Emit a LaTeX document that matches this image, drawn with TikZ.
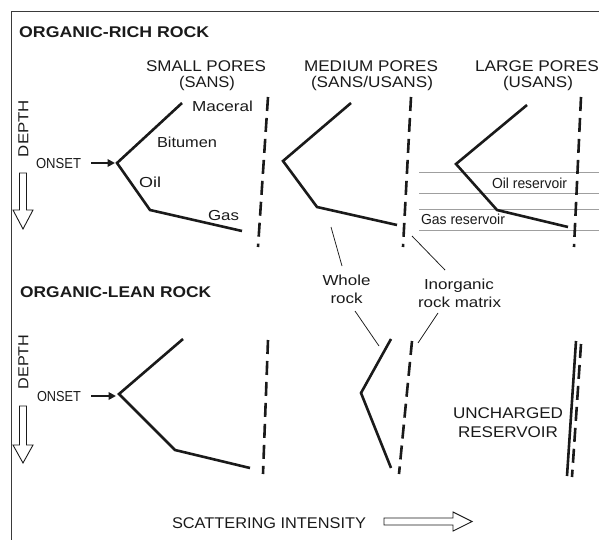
\documentclass[tikz,border=0pt]{standalone}
\usepackage{fontspec}
\setmainfont{Liberation Sans}
\usetikzlibrary{arrows.meta}
\newcommand\fw[2]{\resizebox{#1pt}{\height}{#2}}
\definecolor{inkc}{HTML}{1A1A1A}
\definecolor{framec}{HTML}{3A3A3A}
\begin{document}
\begin{tikzpicture}[x=1pt,y=-1pt,
  ink/.style={line width=2.6pt, draw=inkc},
  dsh/.style={line width=2.6pt, draw=inkc, dash pattern=on 14pt off 7pt},
  lbl/.style={inner sep=0pt, anchor=base, text=inkc, font=\fontsize{14.5}{16}\selectfont},
  hdr/.style={inner sep=0pt, anchor=base, text=inkc, font=\fontsize{15.5}{17}\selectfont},
  ttl/.style={inner sep=0pt, anchor=base west, text=inkc, font=\fontsize{15.5}{17}\selectfont\bfseries},
  lead/.style={line width=0.75pt, draw=inkc},
  hollow/.style={line width=0.9pt, draw=inkc, fill=white},
  gridl/.style={line width=0.7pt, draw=gray!75},
  onsetarrow/.style={line width=1.9pt, draw=inkc, -{Triangle[length=7.5pt,width=7.5pt]}},
]
\useasboundingbox (0,0) rectangle (599,540);
% frame
\draw[framec, line width=1.2pt] (11.7,540) -- (11.7,11.7) -- (599,11.7);

% titles
\node[ttl] (t1) at (19,37.5) {\fw{190}{ORGANIC-RICH ROCK}};
\node[ttl] (t2) at (20,297) {\fw{191}{ORGANIC-LEAN ROCK}};

% column headers
\node[hdr] (h1a) at (206,71.5) {\fw{120}{SMALL PORES}};
\node[hdr] (h1b) at (207,87.5) {\fw{56}{(SANS)}};
\node[hdr] (h2a) at (371,71.5) {\fw{134}{MEDIUM PORES}};
\node[hdr] (h2b) at (372,87.5) {\fw{122}{(SANS/USANS)}};
\node[hdr] (h3a) at (537,71.5) {\fw{124}{LARGE PORES}};
\node[hdr] (h3b) at (538,87.5) {\fw{70}{(USANS)}};

% gray reservoir lines
\coordinate (g1a) at (419,172); \coordinate (g1b) at (599,172);
\coordinate (g2a) at (419,193); \coordinate (g2b) at (599,193);
\coordinate (g3a) at (419,209); \coordinate (g3b) at (599,209);
\coordinate (g4a) at (419,230); \coordinate (g4b) at (599,230);
\draw[gridl] (g1a) -- (g1b);
\draw[gridl] (g2a) -- (g2b);
\draw[gridl] (g3a) -- (g3b);
\draw[gridl] (g4a) -- (g4b);

% labels
\node[lbl] (mac) at (222.5,112) {\fw{61}{Maceral}};
\node[lbl] (bit) at (187,148) {\fw{60}{Bitumen}};
\node[lbl] (oil) at (150,187) {\fw{22}{Oil}};
\node[lbl] (gas) at (223.5,220) {\fw{31}{Gas}};
\node[lbl] (oilr) at (529.5,188.5) {\fw{75}{Oil reservoir}};
\node[lbl] (gasr) at (463,224.5) {\fw{84}{Gas reservoir}};
\node[lbl] (wh1) at (346.5,285) {\fw{48}{Whole}};
\node[lbl] (wh2) at (346.5,303) {\fw{32}{rock}};
\node[lbl] (in1) at (459,289) {\fw{70}{Inorganic}};
\node[lbl] (in2) at (459.5,307) {\fw{83}{rock matrix}};
\node[hdr] (un1) at (508,418) {\fw{110}{UNCHARGED}};
\node[hdr] (un2) at (508,437) {\fw{100}{RESERVOIR}};
\node[hdr] (sc) at (269,528) {\fw{194}{SCATTERING INTENSITY}};

% depth and onset
\node[lbl, rotate=90, anchor=center] (d1) at (23.5,128.5) {\fw{57}{DEPTH}};
\node[lbl, rotate=90, anchor=center] (d2) at (23.5,362) {\fw{55}{DEPTH}};
\node[lbl] (on1) at (58.5,168.5) {\fw{45}{ONSET}};
\node[lbl] (on2) at (59,401.5) {\fw{44}{ONSET}};
\coordinate (oa1) at (91,163); \coordinate (ob1) at (115,163);
\coordinate (oa2) at (91,396); \coordinate (ob2) at (116,396);
\draw[onsetarrow] (oa1) -- (ob1);
\draw[onsetarrow] (oa2) -- (ob2);

% hollow depth arrows
\draw[hollow] (19.5,173) -- (26.5,173) -- (26.5,210) -- (33,210) -- (23,229) -- (13,210) -- (19.5,210) -- cycle;
\draw[hollow] (19.5,406) -- (26.5,406) -- (26.5,445) -- (33,445) -- (23,463) -- (13,445) -- (19.5,445) -- cycle;
% hollow intensity arrow
\draw[hollow] (384,518) -- (453,518) -- (453,512) -- (472,521.5) -- (453,531) -- (453,525) -- (384,525) -- cycle;

% organic-rich curves
\coordinate (s1) at (182,103); \coordinate (s2) at (117,163); \coordinate (s3) at (150,210); \coordinate (s4) at (242,231);
\draw[ink, line join=miter] (s1) -- (s2) -- (s3) -- (s4);
\coordinate (sd1) at (268,97); \coordinate (sd2) at (258,247);
\draw[dsh] (sd1) -- (sd2);

\coordinate (m1) at (351,103); \coordinate (m2) at (283,161); \coordinate (m3) at (317,207); \coordinate (m4) at (397,225);
\draw[ink, line join=miter] (m1) -- (m2) -- (m3) -- (m4);
\coordinate (md1) at (411,97); \coordinate (md2) at (403,247);
\draw[dsh] (md1) -- (md2);

\coordinate (l1) at (527,105); \coordinate (l2) at (456,164); \coordinate (l3) at (497,210); \coordinate (l4) at (568,227);
\draw[ink, line join=miter] (l1) -- (l2) -- (l3) -- (l4);
\coordinate (ld1) at (581,97); \coordinate (ld2) at (574,247);
\draw[dsh] (ld1) -- (ld2);

% organic-lean curves
\coordinate (ls1) at (183,339); \coordinate (ls2) at (119,394); \coordinate (ls3) at (175,450); \coordinate (ls4) at (250,468);
\draw[ink, line join=miter] (ls1) -- (ls2) -- (ls3) -- (ls4);
\coordinate (lsd1) at (268,340); \coordinate (lsd2) at (263,474);
\draw[dsh] (lsd1) -- (lsd2);

\coordinate (lm1) at (391,339); \coordinate (lm2) at (361,393); \coordinate (lm3) at (391,468);
\draw[ink, line join=miter] (lm1) -- (lm2) -- (lm3);
\coordinate (lmd1) at (412,341); \coordinate (lmd2) at (399,474);
\draw[dsh] (lmd1) -- (lmd2);

\coordinate (u1) at (576,341); \coordinate (u2) at (567,476);
\draw[ink] (u1) -- (u2);
\coordinate (ud1) at (581,344); \coordinate (ud2) at (572,477);
\draw[dsh] (ud1) -- (ud2);

% leader lines
\coordinate (wa) at (331,227); \coordinate (wb) at (342,266);
\coordinate (ia) at (412,236); \coordinate (ib) at (445,270);
\coordinate (wc) at (355,311); \coordinate (wd) at (379,346);
\coordinate (ic) at (438,313); \coordinate (id) at (418,343);
\draw[lead] (wa) -- (wb);
\draw[lead] (ia) -- (ib);
\draw[lead] (wc) -- (wd);
\draw[lead] (ic) -- (id);
\end{tikzpicture}
\end{document}
